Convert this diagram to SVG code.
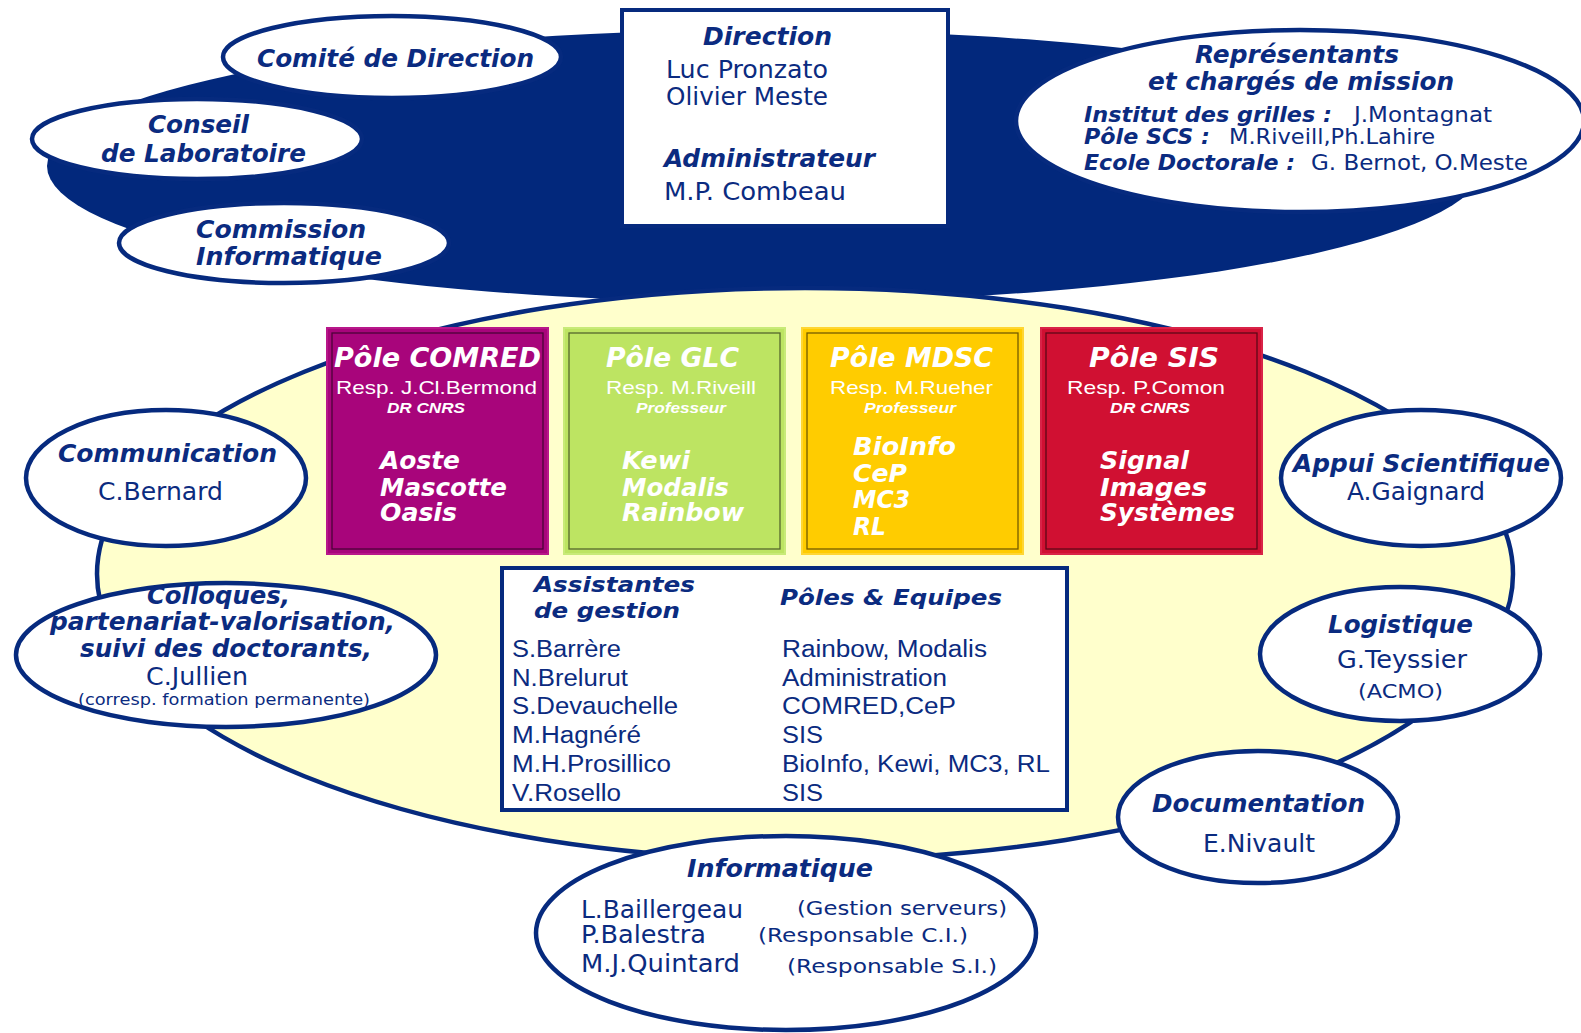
<svg xmlns="http://www.w3.org/2000/svg" width="1581" height="1033" viewBox="0 0 1581 1033">
<style>
text{fill:#0b2b80}
.tb{font-family:"DejaVu Sans Condensed","DejaVu Sans",sans-serif;font-weight:bold;font-style:oblique;font-size:25px}
.tr{font-family:"DejaVu Sans Condensed","DejaVu Sans",sans-serif;font-size:24px}
.tbs{font-family:"DejaVu Sans Condensed","DejaVu Sans",sans-serif;font-weight:bold;font-style:oblique;font-size:21px}
.trs{font-family:"DejaVu Sans Condensed","DejaVu Sans",sans-serif;font-size:21px}
.vb{font-family:"DejaVu Sans",Verdana,sans-serif;font-weight:bold;font-style:oblique;font-size:24px}
.vr{font-family:"DejaVu Sans",Verdana,sans-serif;font-size:24px}
.vs{font-family:"DejaVu Sans",Verdana,sans-serif;font-size:20px}
.ar{font-family:"Liberation Sans",Arial,sans-serif;font-size:23px}
.ph{font-family:"DejaVu Sans Condensed","DejaVu Sans",sans-serif;font-weight:bold;font-style:oblique;font-size:27px;fill:#fff}
.pr{font-family:"Liberation Sans",Arial,sans-serif;font-size:19px;fill:#fff}
.pt{font-family:"Liberation Sans",Arial,sans-serif;font-weight:bold;font-style:italic;font-size:14px;fill:#fff}
.pm{font-family:"DejaVu Sans",Verdana,sans-serif;font-weight:bold;font-style:oblique;font-size:24px;fill:#fff}
.ell{fill:#ffffff;stroke:#062a7e;stroke-width:4.5}
.inner{fill:none;stroke:#000;stroke-opacity:0.55;stroke-width:1.3}
</style>

<g id="background">
  <ellipse cx="765" cy="166" rx="718" ry="136" fill="#02287c"/>
</g>

<g id="comite">
  <ellipse class="ell" cx="392" cy="57" rx="169" ry="41"/>
  <text class="tb" x="257" y="67" textLength="277" lengthAdjust="spacingAndGlyphs">Comité de Direction</text>
</g>
<g id="conseil">
  <ellipse class="ell" cx="197" cy="139" rx="165" ry="40"/>
  <text class="tb" x="148" y="133" textLength="101" lengthAdjust="spacingAndGlyphs">Conseil</text>
  <text class="tb" x="101" y="162" textLength="205" lengthAdjust="spacingAndGlyphs">de Laboratoire</text>
</g>
<g id="commission">
  <ellipse class="ell" cx="284" cy="243" rx="165" ry="40"/>
  <text class="tb" x="196" y="238" textLength="170" lengthAdjust="spacingAndGlyphs">Commission</text>
  <text class="tb" x="196" y="265" textLength="186" lengthAdjust="spacingAndGlyphs">Informatique</text>
</g>

<g id="direction">
  <rect x="622" y="10" width="326" height="216" fill="#ffffff" stroke="#062a7e" stroke-width="4"/>
  <text class="tb" x="703" y="45" textLength="129" lengthAdjust="spacingAndGlyphs">Direction</text>
  <text class="tr" x="666" y="78" textLength="162" lengthAdjust="spacingAndGlyphs">Luc Pronzato</text>
  <text class="tr" x="666" y="105" textLength="162" lengthAdjust="spacingAndGlyphs">Olivier Meste</text>
  <text class="tb" x="664" y="167" textLength="211" lengthAdjust="spacingAndGlyphs">Administrateur</text>
  <text class="tr" x="664" y="200" textLength="182" lengthAdjust="spacingAndGlyphs">M.P. Combeau</text>
</g>

<g id="representants">
  <ellipse class="ell" cx="1300" cy="121" rx="284" ry="91"/>
  <text class="tb" x="1195" y="63" textLength="204" lengthAdjust="spacingAndGlyphs">Représentants</text>
  <text class="tb" x="1148" y="90" textLength="306" lengthAdjust="spacingAndGlyphs">et chargés de mission</text>
  <text class="tbs" x="1084" y="122" textLength="248" lengthAdjust="spacingAndGlyphs">Institut des grilles :</text>
  <text class="trs" x="1354" y="122" textLength="138" lengthAdjust="spacingAndGlyphs">J.Montagnat</text>
  <text class="tbs" x="1084" y="144" textLength="126" lengthAdjust="spacingAndGlyphs">Pôle SCS :</text>
  <text class="trs" x="1229" y="144" textLength="206" lengthAdjust="spacingAndGlyphs">M.Riveill,Ph.Lahire</text>
  <text class="tbs" x="1084" y="170" textLength="211" lengthAdjust="spacingAndGlyphs">Ecole Doctorale :</text>
  <text class="trs" x="1311" y="170" textLength="217" lengthAdjust="spacingAndGlyphs">G. Bernot, O.Meste</text>
</g>

<g id="laboratoire">
  <ellipse cx="805" cy="574" rx="708" ry="286" fill="#ffffcc" stroke="#062a7e" stroke-width="4.5"/>
</g>

<g id="connectors"></g>

<g id="pole-comred">
  <rect x="327" y="328" width="221" height="226" fill="#a8057b" stroke="#b8178a" stroke-width="2"/>
  <rect class="inner" x="332" y="333" width="211" height="216"/>
  <text class="ph" x="334" y="367" textLength="207" lengthAdjust="spacingAndGlyphs">Pôle COMRED</text>
  <text class="pr" x="336" y="394" textLength="201" lengthAdjust="spacingAndGlyphs">Resp. J.Cl.Bermond</text>
  <text class="pt" x="387" y="413" textLength="78" lengthAdjust="spacingAndGlyphs">DR CNRS</text>
  <text class="pm" x="380" y="469" textLength="80" lengthAdjust="spacingAndGlyphs">Aoste</text>
  <text class="pm" x="380" y="496" textLength="127" lengthAdjust="spacingAndGlyphs">Mascotte</text>
  <text class="pm" x="380" y="521" textLength="77" lengthAdjust="spacingAndGlyphs">Oasis</text>
</g>
<g id="pole-glc">
  <rect x="564" y="328" width="221" height="226" fill="#bde462" stroke="#c8ea78" stroke-width="2"/>
  <rect class="inner" x="569" y="333" width="211" height="216"/>
  <text class="ph" x="606" y="367" textLength="133" lengthAdjust="spacingAndGlyphs">Pôle GLC</text>
  <text class="pr" x="606" y="394" textLength="150" lengthAdjust="spacingAndGlyphs">Resp. M.Riveill</text>
  <text class="pt" x="636" y="413" textLength="90" lengthAdjust="spacingAndGlyphs">Professeur</text>
  <text class="pm" x="622" y="469" textLength="68" lengthAdjust="spacingAndGlyphs">Kewi</text>
  <text class="pm" x="622" y="496" textLength="107" lengthAdjust="spacingAndGlyphs">Modalis</text>
  <text class="pm" x="622" y="521" textLength="122" lengthAdjust="spacingAndGlyphs">Rainbow</text>
</g>
<g id="pole-mdsc">
  <rect x="802" y="328" width="221" height="226" fill="#ffcc00" stroke="#ffd633" stroke-width="2"/>
  <rect class="inner" x="807" y="333" width="211" height="216"/>
  <text class="ph" x="830" y="367" textLength="163" lengthAdjust="spacingAndGlyphs">Pôle MDSC</text>
  <text class="pr" x="830" y="394" textLength="163" lengthAdjust="spacingAndGlyphs">Resp. M.Rueher</text>
  <text class="pt" x="864" y="413" textLength="92" lengthAdjust="spacingAndGlyphs">Professeur</text>
  <text class="pm" x="853" y="455" textLength="103" lengthAdjust="spacingAndGlyphs">BioInfo</text>
  <text class="pm" x="853" y="482" textLength="54" lengthAdjust="spacingAndGlyphs">CeP</text>
  <text class="pm" x="853" y="508" textLength="57" lengthAdjust="spacingAndGlyphs">MC3</text>
  <text class="pm" x="853" y="535" textLength="33" lengthAdjust="spacingAndGlyphs">RL</text>
</g>
<g id="pole-sis">
  <rect x="1041" y="328" width="221" height="226" fill="#d01032" stroke="#d92348" stroke-width="2"/>
  <rect class="inner" x="1046" y="333" width="211" height="216"/>
  <text class="ph" x="1089" y="367" textLength="130" lengthAdjust="spacingAndGlyphs">Pôle SIS</text>
  <text class="pr" x="1067" y="394" textLength="158" lengthAdjust="spacingAndGlyphs">Resp. P.Comon</text>
  <text class="pt" x="1110" y="413" textLength="80" lengthAdjust="spacingAndGlyphs">DR CNRS</text>
  <text class="pm" x="1100" y="469" textLength="89" lengthAdjust="spacingAndGlyphs">Signal</text>
  <text class="pm" x="1100" y="496" textLength="107" lengthAdjust="spacingAndGlyphs">Images</text>
  <text class="pm" x="1100" y="521" textLength="135" lengthAdjust="spacingAndGlyphs">Systèmes</text>
</g>

<g id="assistantes">
  <rect x="502" y="568" width="565" height="242" fill="#ffffff" stroke="#062a7e" stroke-width="4"/>
  <text class="vb" x="534" y="592" style="font-size:22px" textLength="161" lengthAdjust="spacingAndGlyphs">Assistantes</text>
  <text class="vb" x="534" y="618" style="font-size:22px" textLength="146" lengthAdjust="spacingAndGlyphs">de gestion</text>
  <text class="vb" x="780" y="605" style="font-size:22px" textLength="222" lengthAdjust="spacingAndGlyphs">Pôles &amp; Equipes</text>
  <text class="ar" x="512" y="657" textLength="109" lengthAdjust="spacingAndGlyphs">S.Barrère</text>
  <text class="ar" x="512" y="686" textLength="116" lengthAdjust="spacingAndGlyphs">N.Brelurut</text>
  <text class="ar" x="512" y="714" textLength="166" lengthAdjust="spacingAndGlyphs">S.Devauchelle</text>
  <text class="ar" x="512" y="743" textLength="129" lengthAdjust="spacingAndGlyphs">M.Hagnéré</text>
  <text class="ar" x="512" y="772" textLength="159" lengthAdjust="spacingAndGlyphs">M.H.Prosillico</text>
  <text class="ar" x="512" y="801" textLength="109" lengthAdjust="spacingAndGlyphs">V.Rosello</text>
  <text class="ar" x="782" y="657" textLength="205" lengthAdjust="spacingAndGlyphs">Rainbow, Modalis</text>
  <text class="ar" x="782" y="686" textLength="165" lengthAdjust="spacingAndGlyphs">Administration</text>
  <text class="ar" x="782" y="714" textLength="174" lengthAdjust="spacingAndGlyphs">COMRED,CeP</text>
  <text class="ar" x="782" y="743" textLength="41" lengthAdjust="spacingAndGlyphs">SIS</text>
  <text class="ar" x="782" y="772" textLength="268" lengthAdjust="spacingAndGlyphs">BioInfo, Kewi, MC3, RL</text>
  <text class="ar" x="782" y="801" textLength="41" lengthAdjust="spacingAndGlyphs">SIS</text>
</g>

<g id="communication">
  <ellipse class="ell" cx="166" cy="478" rx="140" ry="68"/>
  <text class="vb" x="58" y="462" textLength="219" lengthAdjust="spacingAndGlyphs">Communication</text>
  <text class="vr" x="98" y="500" textLength="125" lengthAdjust="spacingAndGlyphs">C.Bernard</text>
</g>
<g id="colloques">
  <ellipse class="ell" cx="226" cy="655" rx="210" ry="72"/>
  <text class="vb" x="147" y="604" textLength="143" lengthAdjust="spacingAndGlyphs">Colloques,</text>
  <text class="vb" x="50" y="630" textLength="345" lengthAdjust="spacingAndGlyphs">partenariat-valorisation,</text>
  <text class="vb" x="80" y="657" textLength="292" lengthAdjust="spacingAndGlyphs">suivi des doctorants,</text>
  <text class="vr" x="146" y="685" textLength="102" lengthAdjust="spacingAndGlyphs">C.Jullien</text>
  <text class="vr" x="78" y="705" style="font-size:16px" textLength="292" lengthAdjust="spacingAndGlyphs">(corresp. formation permanente)</text>
</g>
<g id="appui">
  <ellipse class="ell" cx="1421" cy="478" rx="140" ry="68"/>
  <text class="vb" x="1293" y="472" textLength="257" lengthAdjust="spacingAndGlyphs">Appui Scientifique</text>
  <text class="vr" x="1347" y="500" textLength="138" lengthAdjust="spacingAndGlyphs">A.Gaignard</text>
</g>
<g id="logistique">
  <ellipse class="ell" cx="1400" cy="654" rx="140" ry="67"/>
  <text class="vb" x="1328" y="633" textLength="145" lengthAdjust="spacingAndGlyphs">Logistique</text>
  <text class="vr" x="1337" y="668" textLength="130" lengthAdjust="spacingAndGlyphs">G.Teyssier</text>
  <text class="vs" x="1358" y="698" textLength="85" lengthAdjust="spacingAndGlyphs">(ACMO)</text>
</g>
<g id="documentation">
  <ellipse class="ell" cx="1258" cy="817" rx="140" ry="66"/>
  <text class="vb" x="1152" y="812" textLength="213" lengthAdjust="spacingAndGlyphs">Documentation</text>
  <text class="vr" x="1203" y="852" textLength="112" lengthAdjust="spacingAndGlyphs">E.Nivault</text>
</g>
<g id="informatique">
  <ellipse class="ell" cx="786" cy="933" rx="250" ry="97"/>
  <text class="vb" x="687" y="877" textLength="186" lengthAdjust="spacingAndGlyphs">Informatique</text>
  <text class="vr" x="581" y="918" textLength="162" lengthAdjust="spacingAndGlyphs">L.Baillergeau</text>
  <text class="vr" x="581" y="943" textLength="125" lengthAdjust="spacingAndGlyphs">P.Balestra</text>
  <text class="vr" x="581" y="972" textLength="159" lengthAdjust="spacingAndGlyphs">M.J.Quintard</text>
  <text class="vs" x="797" y="915" textLength="210" lengthAdjust="spacingAndGlyphs">(Gestion serveurs)</text>
  <text class="vs" x="758" y="942" textLength="210" lengthAdjust="spacingAndGlyphs">(Responsable C.I.)</text>
  <text class="vs" x="787" y="973" textLength="210" lengthAdjust="spacingAndGlyphs">(Responsable S.I.)</text>
</g>
</svg>
